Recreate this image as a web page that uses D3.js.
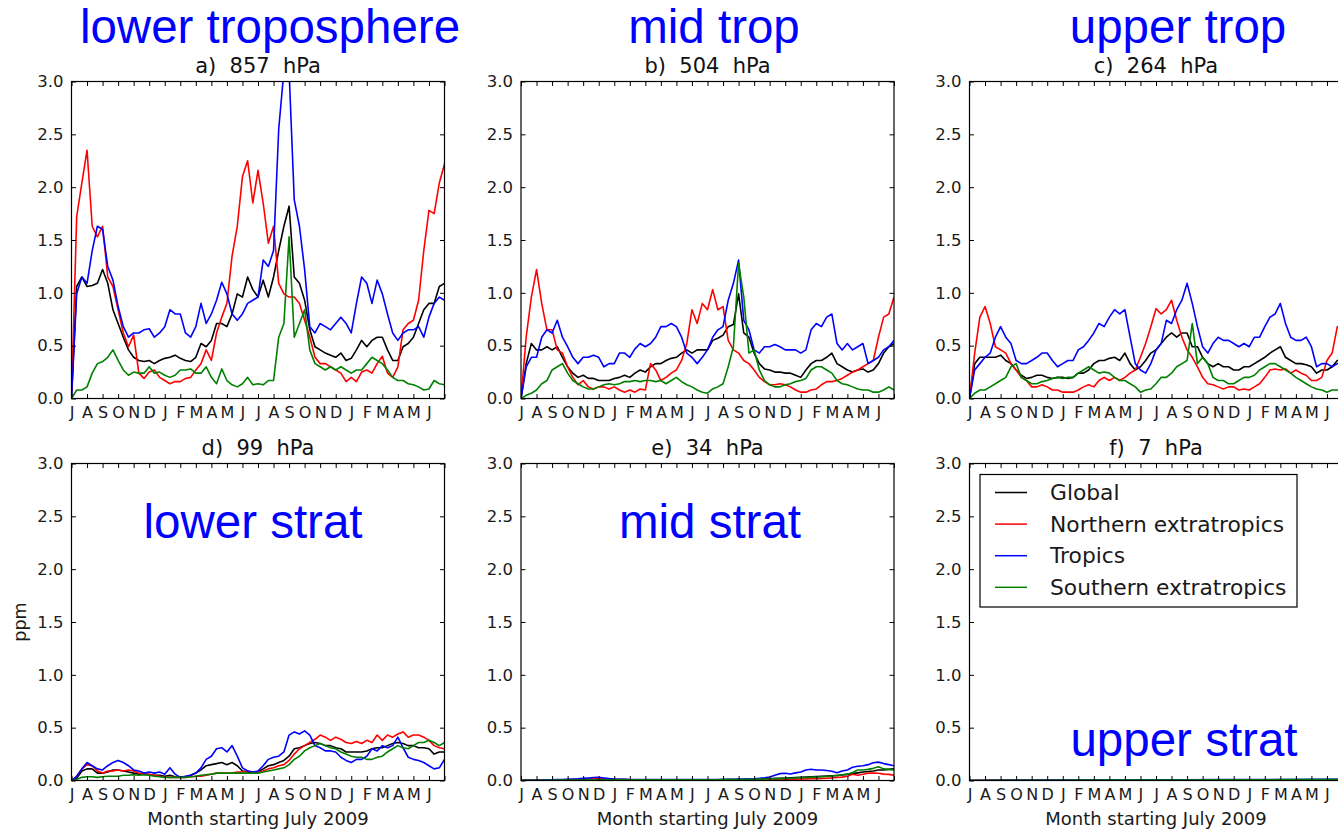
<!DOCTYPE html>
<html>
<head>
<meta charset="utf-8">
<script src="https://cdn.jsdelivr.net/npm/d3@7"></script>
<style>
  html, body { margin: 0; padding: 0; background: #ffffff; }
  svg { display: block; }
</style>
</head>
<body>
<svg id="chart" width="1338" height="829"></svg>
<script>
// Month tick labels (July 2009 .. June 2011) and y ticks
const monthLabels = ["J","A","S","O","N","D","J","F","M","A","M","J",
                     "J","A","S","O","N","D","J","F","M","A","M","J"];
const yTicks = [0, 0.5, 1.0, 1.5, 2.0, 2.5, 3.0];

const seriesNames = ["Global", "Northern extratropics", "Tropics", "Southern extratropics"];
const seriesColors = ["#000000", "#ff0000", "#0000ff", "#008000"];

const panelTitles = ["a)  857  hPa", "b)  504  hPa", "c)  264  hPa",
                     "d)  99  hPa", "e)  34  hPa", "f)  7  hPa"];
const regionLabels = ["lower troposphere", "mid trop", "upper trop",
                      "lower strat", "mid strat", "upper strat"];

// Mixing ratio (ppm), sampled every third of a month from July 2009
const a_global = [0,1.06,1.15,1.06,1.07,1.09,1.22,1.09,0.84,0.71,
  0.58,0.46,0.39,0.36,0.35,0.36,0.33,0.36,0.38,0.39,
  0.41,0.38,0.36,0.35,0.39,0.52,0.49,0.55,0.71,0.71,
  0.68,0.8,0.99,0.96,1.15,1.03,0.96,1.12,0.96,1.15,
  1.4,1.63,1.82,1.15,1.09,0.93,0.65,0.49,0.46,0.43,
  0.41,0.39,0.43,0.36,0.38,0.46,0.55,0.49,0.55,0.58,
  0.58,0.46,0.36,0.36,0.49,0.52,0.58,0.71,0.84,0.9,
  0.9,1.06,1.09];
const a_north = [0,1.72,2.04,2.35,1.63,1.53,1.63,1.15,1.06,0.84,
  0.62,0.49,0.6,0.24,0.19,0.25,0.27,0.2,0.17,0.14,
  0.16,0.16,0.19,0.2,0.27,0.33,0.46,0.36,0.62,0.77,
  0.9,1.35,1.63,2.1,2.25,1.85,2.16,1.85,1.47,1.63,
  1.09,0.99,0.96,0.96,0.9,0.74,0.58,0.39,0.33,0.33,
  0.3,0.27,0.24,0.16,0.2,0.16,0.25,0.27,0.24,0.33,
  0.4,0.24,0.2,0.3,0.65,0.71,0.74,0.93,1.4,1.78,
  1.75,2.04,2.22];
const a_tropics = [0,0.99,1.15,1.09,1.4,1.63,1.6,1.25,1.12,0.87,
  0.68,0.58,0.62,0.62,0.65,0.66,0.58,0.62,0.68,0.84,
  0.8,0.8,0.62,0.58,0.68,0.9,0.71,0.8,0.93,1.1,
  0.99,0.8,0.74,0.8,0.9,0.93,0.96,1.31,1.25,1.4,
  2.55,3.1,3.1,1.88,1.63,1.22,0.68,0.62,0.71,0.68,
  0.65,0.71,0.77,0.71,0.62,0.9,1.15,1.09,0.9,1.12,
  0.99,0.8,0.62,0.55,0.62,0.65,0.65,0.68,0.58,0.77,
  0.9,0.96,0.93];
const a_south = [0,0.08,0.08,0.11,0.24,0.33,0.35,0.39,0.46,0.36,
  0.27,0.22,0.25,0.24,0.24,0.3,0.24,0.25,0.22,0.2,
  0.22,0.27,0.27,0.28,0.24,0.24,0.3,0.2,0.14,0.28,
  0.17,0.13,0.11,0.14,0.2,0.13,0.14,0.13,0.17,0.17,
  0.58,0.71,1.53,0.58,0.71,0.84,0.46,0.33,0.3,0.27,
  0.3,0.27,0.3,0.27,0.24,0.27,0.27,0.33,0.39,0.36,
  0.33,0.27,0.2,0.17,0.17,0.14,0.13,0.11,0.08,0.09,
  0.17,0.14,0.13];

const b_global = [0,0.33,0.52,0.46,0.46,0.49,0.46,0.49,0.39,0.3,
  0.24,0.2,0.22,0.19,0.19,0.17,0.17,0.17,0.19,0.2,
  0.22,0.2,0.24,0.27,0.25,0.3,0.33,0.33,0.36,0.38,
  0.39,0.43,0.46,0.43,0.46,0.46,0.46,0.55,0.57,0.6,
  0.68,0.7,0.99,0.62,0.58,0.43,0.33,0.28,0.27,0.25,
  0.25,0.24,0.24,0.22,0.2,0.27,0.33,0.36,0.36,0.39,
  0.43,0.33,0.3,0.27,0.25,0.27,0.28,0.25,0.27,0.33,
  0.43,0.49,0.52];
const b_north = [0,0.58,0.96,1.22,0.9,0.65,0.65,0.46,0.43,0.3,
  0.2,0.13,0.17,0.11,0.09,0.11,0.11,0.09,0.11,0.08,
  0.06,0.08,0.06,0.09,0.08,0.33,0.27,0.17,0.2,0.24,
  0.27,0.36,0.52,0.84,0.71,0.9,0.84,1.03,0.84,0.87,
  0.55,0.46,0.43,0.36,0.33,0.27,0.2,0.16,0.13,0.13,
  0.14,0.13,0.11,0.08,0.06,0.06,0.08,0.09,0.13,0.16,
  0.16,0.17,0.19,0.22,0.25,0.27,0.3,0.33,0.36,0.58,
  0.77,0.8,0.96];
const b_tropics = [0,0.3,0.39,0.39,0.58,0.65,0.62,0.74,0.58,0.49,
  0.39,0.33,0.39,0.39,0.41,0.39,0.3,0.33,0.33,0.43,
  0.43,0.39,0.47,0.52,0.49,0.52,0.58,0.68,0.68,0.71,
  0.68,0.58,0.43,0.39,0.33,0.39,0.46,0.58,0.65,0.68,
  0.93,1.09,1.31,0.74,0.65,0.46,0.43,0.49,0.49,0.51,
  0.49,0.46,0.46,0.46,0.43,0.46,0.65,0.71,0.68,0.77,
  0.8,0.52,0.46,0.52,0.46,0.49,0.52,0.33,0.36,0.39,
  0.46,0.49,0.55];
const b_south = [0,0.03,0.05,0.08,0.14,0.17,0.27,0.3,0.33,0.24,
  0.17,0.14,0.11,0.09,0.09,0.11,0.13,0.14,0.13,0.14,
  0.16,0.16,0.17,0.16,0.17,0.17,0.16,0.17,0.14,0.17,
  0.2,0.16,0.13,0.11,0.08,0.06,0.05,0.09,0.11,0.14,
  0.3,0.49,1.28,0.96,0.43,0.46,0.27,0.17,0.13,0.11,
  0.11,0.13,0.14,0.16,0.17,0.19,0.27,0.3,0.3,0.27,
  0.24,0.17,0.14,0.13,0.11,0.09,0.08,0.08,0.06,0.06,
  0.08,0.11,0.08];

const c_global = [0,0.33,0.39,0.39,0.39,0.39,0.41,0.36,0.33,0.27,
  0.22,0.19,0.2,0.22,0.22,0.2,0.19,0.2,0.2,0.19,
  0.2,0.24,0.24,0.27,0.33,0.36,0.36,0.38,0.39,0.36,
  0.43,0.33,0.27,0.3,0.36,0.43,0.46,0.52,0.58,0.62,
  0.58,0.62,0.62,0.49,0.49,0.39,0.33,0.3,0.33,0.3,
  0.3,0.27,0.27,0.3,0.3,0.33,0.36,0.39,0.43,0.46,
  0.49,0.39,0.36,0.33,0.33,0.32,0.3,0.24,0.27,0.27,
  0.3,0.36,0.37];
const c_north = [0,0.43,0.77,0.87,0.71,0.49,0.46,0.43,0.33,0.27,
  0.2,0.17,0.11,0.11,0.13,0.11,0.08,0.08,0.06,0.06,
  0.06,0.08,0.11,0.13,0.11,0.17,0.2,0.17,0.2,0.17,
  0.2,0.24,0.27,0.39,0.52,0.68,0.85,0.8,0.84,0.93,
  0.74,0.58,0.46,0.39,0.3,0.2,0.14,0.13,0.11,0.09,
  0.11,0.11,0.08,0.09,0.08,0.11,0.14,0.2,0.27,0.28,
  0.27,0.28,0.24,0.27,0.24,0.22,0.17,0.17,0.2,0.36,
  0.43,0.68,0.7];
const c_tropics = [0,0.27,0.33,0.39,0.43,0.58,0.68,0.58,0.52,0.36,
  0.33,0.33,0.36,0.39,0.43,0.43,0.36,0.3,0.33,0.36,
  0.36,0.46,0.49,0.55,0.62,0.71,0.68,0.77,0.84,0.8,
  0.84,0.58,0.33,0.27,0.24,0.33,0.46,0.52,0.74,0.71,
  0.84,0.93,1.09,0.9,0.68,0.49,0.43,0.52,0.58,0.55,
  0.55,0.52,0.49,0.52,0.49,0.58,0.58,0.68,0.77,0.8,
  0.9,0.71,0.58,0.55,0.55,0.58,0.49,0.3,0.33,0.33,
  0.3,0.33,0.35];
const c_south = [0,0.05,0.08,0.08,0.11,0.14,0.17,0.2,0.3,0.33,
  0.2,0.17,0.14,0.14,0.16,0.17,0.19,0.2,0.19,0.2,
  0.2,0.24,0.27,0.3,0.27,0.24,0.25,0.24,0.2,0.17,
  0.17,0.14,0.11,0.06,0.08,0.09,0.14,0.2,0.2,0.24,
  0.3,0.33,0.36,0.71,0.33,0.39,0.33,0.2,0.17,0.17,
  0.14,0.14,0.17,0.2,0.2,0.22,0.27,0.3,0.33,0.33,
  0.3,0.27,0.24,0.2,0.17,0.14,0.11,0.09,0.08,0.06,
  0.08,0.08,0.08];

const d_global = [0,0.02,0.09,0.11,0.11,0.07,0.07,0.08,0.1,0.1,
  0.09,0.08,0.07,0.06,0.06,0.055,0.05,0.05,0.04,0.05,
  0.035,0.03,0.035,0.05,0.07,0.1,0.14,0.15,0.16,0.17,
  0.15,0.17,0.14,0.09,0.08,0.07,0.08,0.11,0.14,0.15,
  0.17,0.19,0.23,0.3,0.31,0.33,0.35,0.36,0.35,0.33,
  0.33,0.31,0.3,0.27,0.27,0.27,0.27,0.28,0.3,0.31,
  0.31,0.33,0.35,0.36,0.35,0.33,0.33,0.31,0.31,0.3,
  0.25,0.27,0.27];
const d_north = [0,0.04,0.11,0.15,0.14,0.09,0.07,0.09,0.09,0.1,
  0.09,0.1,0.09,0.07,0.06,0.06,0.05,0.04,0.035,0.03,
  0.03,0.03,0.03,0.035,0.04,0.04,0.05,0.06,0.07,0.07,
  0.07,0.07,0.08,0.08,0.09,0.08,0.08,0.09,0.11,0.12,
  0.14,0.15,0.19,0.25,0.3,0.33,0.36,0.39,0.43,0.41,
  0.38,0.41,0.39,0.36,0.35,0.37,0.35,0.38,0.36,0.43,
  0.38,0.43,0.41,0.44,0.46,0.41,0.43,0.43,0.41,0.38,
  0.33,0.31,0.3];
const d_tropics = [0,0.04,0.11,0.17,0.14,0.11,0.1,0.14,0.17,0.19,
  0.17,0.14,0.1,0.09,0.07,0.08,0.07,0.08,0.06,0.12,
  0.06,0.03,0.04,0.05,0.07,0.12,0.2,0.23,0.3,0.31,
  0.27,0.33,0.23,0.12,0.09,0.08,0.09,0.14,0.2,0.22,
  0.23,0.27,0.43,0.46,0.44,0.47,0.43,0.33,0.31,0.28,
  0.28,0.27,0.22,0.19,0.17,0.2,0.2,0.23,0.3,0.28,
  0.33,0.31,0.33,0.41,0.31,0.22,0.2,0.19,0.17,0.14,
  0.11,0.12,0.2];
const d_south = [0,0.01,0.03,0.035,0.035,0.03,0.035,0.04,0.04,0.04,
  0.05,0.05,0.055,0.05,0.055,0.05,0.04,0.035,0.03,0.03,
  0.03,0.03,0.03,0.035,0.04,0.05,0.055,0.06,0.07,0.07,
  0.07,0.07,0.07,0.07,0.07,0.07,0.07,0.08,0.09,0.1,
  0.11,0.12,0.15,0.2,0.23,0.28,0.31,0.33,0.35,0.33,
  0.31,0.3,0.27,0.25,0.23,0.22,0.22,0.2,0.2,0.22,
  0.23,0.27,0.3,0.33,0.31,0.3,0.33,0.36,0.36,0.38,
  0.36,0.33,0.36];

const e_global = [0,0.002,0.003,0.003,0.004,0.004,0.005,0.005,0.006,0.006,
  0.007,0.008,0.008,0.009,0.01,0.01,0.01,0.009,0.008,0.008,
  0.008,0.007,0.007,0.007,0.006,0.006,0.006,0.006,0.006,0.006,
  0.006,0.006,0.006,0.006,0.006,0.006,0.007,0.007,0.007,0.008,
  0.008,0.009,0.01,0.01,0.011,0.012,0.013,0.015,0.017,0.02,
  0.022,0.024,0.026,0.028,0.03,0.032,0.035,0.037,0.04,0.042,
  0.045,0.048,0.052,0.058,0.065,0.072,0.08,0.085,0.09,0.1,
  0.1,0.105,0.11];
const e_north = [0,0.002,0.003,0.004,0.004,0.005,0.005,0.006,0.007,0.008,
  0.009,0.01,0.012,0.014,0.016,0.018,0.016,0.013,0.01,0.009,
  0.008,0.007,0.006,0.006,0.005,0.005,0.005,0.005,0.005,0.005,
  0.005,0.005,0.005,0.005,0.005,0.005,0.005,0.005,0.005,0.005,
  0.005,0.005,0.006,0.006,0.007,0.007,0.008,0.008,0.009,0.01,
  0.01,0.011,0.012,0.013,0.014,0.015,0.016,0.018,0.02,0.022,
  0.025,0.03,0.032,0.04,0.06,0.05,0.06,0.07,0.07,0.068,
  0.06,0.058,0.05];
const e_tropics = [0,0.002,0.003,0.004,0.005,0.006,0.007,0.008,0.01,0.012,
  0.014,0.016,0.02,0.024,0.028,0.03,0.024,0.018,0.014,0.012,
  0.011,0.01,0.01,0.009,0.009,0.008,0.008,0.008,0.008,0.008,
  0.008,0.008,0.008,0.008,0.008,0.008,0.009,0.009,0.01,0.01,
  0.011,0.012,0.013,0.014,0.015,0.017,0.02,0.025,0.032,0.05,
  0.065,0.068,0.062,0.072,0.08,0.1,0.106,0.1,0.1,0.094,
  0.088,0.074,0.09,0.1,0.125,0.135,0.14,0.15,0.168,0.174,
  0.16,0.15,0.14];
const e_south = [0,0.001,0.002,0.002,0.003,0.003,0.003,0.004,0.004,0.004,
  0.005,0.005,0.005,0.006,0.006,0.006,0.006,0.006,0.006,0.006,
  0.006,0.006,0.006,0.006,0.006,0.006,0.006,0.006,0.006,0.006,
  0.006,0.006,0.006,0.006,0.006,0.006,0.007,0.007,0.007,0.008,
  0.008,0.009,0.01,0.01,0.011,0.012,0.013,0.014,0.015,0.017,
  0.018,0.02,0.022,0.024,0.026,0.028,0.03,0.032,0.035,0.038,
  0.042,0.048,0.055,0.06,0.075,0.1,0.1,0.105,0.115,0.13,
  0.11,0.105,0.1];

// 7 hPa: sampled every two months
const f_global = [0,0.002,0.003,0.003,0.004,0.004,0.004,0.005,0.005,0.006,0.006,0.007,0.008];
const f_north = [0,0.001,0.002,0.002,0.003,0.003,0.003,0.004,0.004,0.005,0.005,0.006,0.006];
const f_tropics = [0,0.003,0.004,0.005,0.005,0.006,0.006,0.007,0.008,0.009,0.01,0.011,0.012];
const f_south = [0,0.002,0.003,0.003,0.004,0.004,0.005,0.005,0.006,0.007,0.008,0.009,0.01];

const panelSeries = [
  [a_global, a_north, a_tropics, a_south],
  [b_global, b_north, b_tropics, b_south],
  [c_global, c_north, c_tropics, c_south],
  [d_global, d_north, d_tropics, d_south],
  [e_global, e_north, e_tropics, e_south],
  [f_global, f_north, f_tropics, f_south]
];

// ---- layout ----
const svg = d3.select("#chart");
const FONT = "'DejaVu Sans', sans-serif";
const panelW = 373, panelH = 317;
const lefts = [71.5, 521, 969.5];
const tops = [81.5, 463.5];
const labelPos = [
  {x: 270, y: 43},
  {x: 714, y: 43},
  {x: 1178, y: 43},
  {x: 253, y: 538},
  {x: 710, y: 538},
  {x: 1184, y: 756}
];

const monthTicks = d3.range(0, 25);
const tickLen = 4.5;

panelSeries.forEach((series, p) => {
  const col = p % 3, row = Math.floor(p / 3);
  const x0 = lefts[col], y0 = tops[row];

  const x = d3.scaleLinear().domain([0, 24]).range([0, panelW]);
  const y = d3.scaleLinear().domain([0, 3]).range([panelH, 0]);

  const g = svg.append("g").attr("transform", `translate(${x0},${y0})`);

  const clipId = "clip" + p;
  g.append("clipPath").attr("id", clipId)
    .append("rect").attr("x", 0).attr("y", 0).attr("width", panelW).attr("height", panelH);

  const plot = g.append("g").attr("clip-path", `url(#${clipId})`);
  series.forEach((vals, s) => {
    const n = vals.length;
    const line = d3.line()
      .x((d, i) => x(i * 24 / (n - 1)))
      .y(d => y(d));
    plot.append("path")
      .datum(vals)
      .attr("d", line)
      .attr("fill", "none")
      .attr("stroke", seriesColors[s])
      .attr("stroke-width", 1.6)
      .attr("stroke-linejoin", "round");
  });

  // axes: inward ticks on all four sides
  const styleAxis = sel => {
    sel.select(".domain").remove();
    sel.selectAll(".tick line").attr("stroke", "#000").attr("stroke-width", 1);
    sel.selectAll(".tick text").attr("fill", "#1a1a1a").style("font-family", FONT);
  };

  g.append("g")
    .call(d3.axisLeft(y).tickValues(yTicks).tickFormat(d3.format(".1f"))
      .tickSizeInner(-tickLen).tickSizeOuter(0).tickPadding(8))
    .call(styleAxis)
    .selectAll(".tick text").style("font-size", "16.5px");

  g.append("g").attr("transform", `translate(${panelW},0)`)
    .call(d3.axisRight(y).tickValues(yTicks).tickFormat("")
      .tickSizeInner(-tickLen).tickSizeOuter(0))
    .call(styleAxis);

  g.append("g")
    .call(d3.axisTop(x).tickValues(monthTicks).tickFormat("")
      .tickSizeInner(-tickLen).tickSizeOuter(0))
    .call(styleAxis);

  g.append("g").attr("transform", `translate(0,${panelH})`)
    .call(d3.axisBottom(x).tickValues(monthTicks)
      .tickFormat(d => d < 24 ? monthLabels[d] : "")
      .tickSizeInner(-tickLen).tickSizeOuter(0).tickPadding(8))
    .call(styleAxis)
    .selectAll(".tick text").style("font-size", "16px");

  // frame
  g.append("rect")
    .attr("x", 0).attr("y", 0).attr("width", panelW).attr("height", panelH)
    .attr("fill", "none").attr("stroke", "#000").attr("stroke-width", 1.2);

  // panel title
  g.append("text")
    .attr("x", panelW / 2).attr("y", -9)
    .attr("text-anchor", "middle")
    .style("font-family", FONT).style("font-size", "21px")
    .style("white-space", "pre")
    .attr("fill", "#111")
    .text(panelTitles[p]);

  if (row === 1) {
    g.append("text")
      .attr("x", panelW / 2).attr("y", panelH + 44.5)
      .attr("text-anchor", "middle")
      .style("font-family", FONT).style("font-size", "18px")
      .attr("fill", "#1a1a1a")
      .text("Month starting July 2009");
  }

  // region label in blue
  svg.append("text")
    .attr("x", labelPos[p].x).attr("y", labelPos[p].y)
    .attr("text-anchor", "middle")
    .style("font-family", "'Liberation Sans', Arial, sans-serif")
    .style("font-size", "47.5px")
    .attr("fill", "#0000ff")
    .text(regionLabels[p]);

  // legend in the last panel
  if (p === 5) {
    const lg = g.append("g").attr("transform", "translate(10.5,11)");
    lg.append("rect").attr("width", 317).attr("height", 132.5)
      .attr("fill", "#fff").attr("stroke", "#000").attr("stroke-width", 1.2);
    seriesNames.forEach((name, s) => {
      const yy = 18 + s * 31.6;
      lg.append("line").attr("x1", 15).attr("x2", 47).attr("y1", yy).attr("y2", yy)
        .attr("stroke", seriesColors[s]).attr("stroke-width", 1.5);
      lg.append("text").attr("x", 70).attr("y", yy).attr("dy", "0.35em")
        .style("font-family", FONT).style("font-size", "21.8px")
        .attr("fill", "#1a1a1a")
        .text(name);
    });
  }
});

// y-axis label
svg.append("text")
  .attr("transform", "translate(26,622) rotate(-90)")
  .attr("text-anchor", "middle")
  .style("font-family", FONT).style("font-size", "17.5px")
  .attr("fill", "#1a1a1a")
  .text("ppm");
</script>
</body>
</html>
